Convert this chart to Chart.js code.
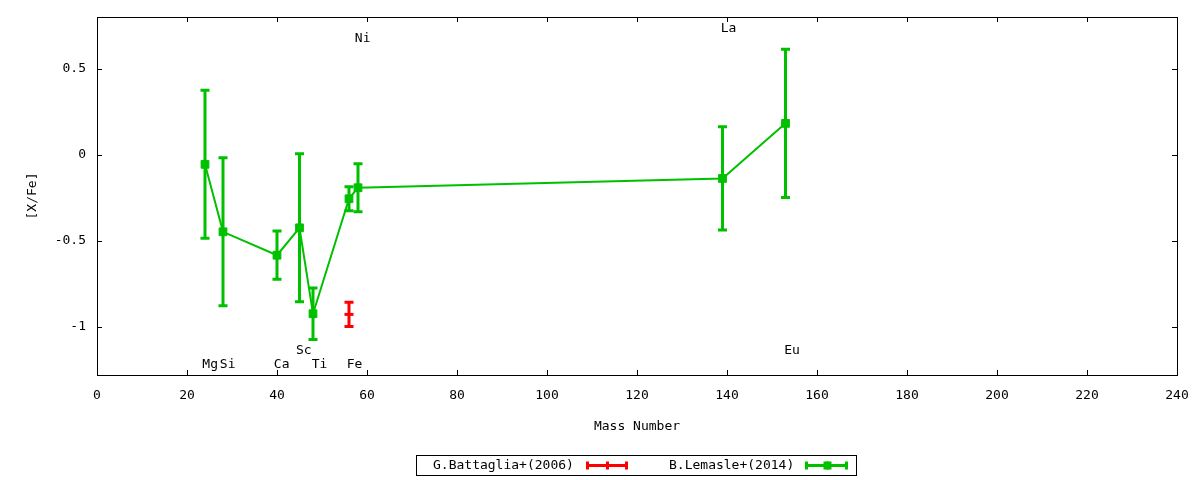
<!DOCTYPE html>
<html>
<head>
<meta charset="utf-8">
<script src="https://cdn.jsdelivr.net/npm/chart.js@4/dist/chart.umd.min.js"></script>
<style>
  html, body { margin: 0; padding: 0; background: #fff; }
  #wrap { width: 1200px; height: 480px; }
</style>
</head>
<body>
<div id="wrap"><canvas id="myChart" width="1200" height="480"></canvas></div>
<script>
// mass numbers, abundances and errors
let lemasleMass = [24, 28, 40, 45, 48, 56, 58, 139, 153]
let lemasleVal  = [-0.056, -0.448, -0.584, -0.425, -0.924, -0.256, -0.192, -0.138, 0.182]
let lemasleErr  = [0.43, 0.43, 0.14, 0.43, 0.15, 0.07, 0.14, 0.30, 0.43]

let battagliaMass = [56]
let battagliaVal  = [-0.928]
let battagliaErr  = [0.07]

// element labels: name, x (mass), y
let elemNames = ['Mg', 'Si', 'Ca', 'Sc', 'Ti', 'Fe', 'Ni', 'La', 'Eu']
let elemX     = [23.4, 27.3, 39.3, 44.2, 47.7, 55.5, 57.3, 138.6, 152.7]
let elemY     = [-1.22, -1.22, -1.22, -1.14, -1.22, -1.22, 0.675, 0.735, -1.14]

let xTicksMin = 0, xTicksMax = 240, xStep = 20
let yMin = -1.28, yMax = 0.8, yStep = 0.5

const FONT = "'DejaVu Sans Mono', monospace"
const FSIZE = 13
const GREEN = '#00c000'
const RED = '#ff0000'

function toPoints(xs, ys){
  let pts = []
  for(let i = 0; i < xs.length; i++){
    pts.push({x: xs[i], y: ys[i]})
  }
  return pts
}

// gnuplot-ish frame, inward ticks, error bars, labels and key
const gnuplotLook = {
  id: 'gnuplotLook',
  beforeDatasetsDraw(chart){
    const ctx = chart.ctx
    const xs = chart.scales.x, ys = chart.scales.y
    // error bars
    chart.data.datasets.forEach((ds) => {
      ctx.save()
      ctx.strokeStyle = ds.borderColor
      ctx.lineWidth = 3
      ds.data.forEach((p, i) => {
        const px = xs.getPixelForValue(p.x)
        const top = ys.getPixelForValue(p.y + ds.errors[i])
        const bot = ys.getPixelForValue(p.y - ds.errors[i])
        ctx.beginPath()
        ctx.moveTo(px, top); ctx.lineTo(px, bot)
        ctx.moveTo(px - 4.5, top); ctx.lineTo(px + 4.5, top)
        ctx.moveTo(px - 4.5, bot); ctx.lineTo(px + 4.5, bot)
        ctx.stroke()
      })
      ctx.restore()
    })
  },
  afterDatasetsDraw(chart){
    const ctx = chart.ctx
    const xs = chart.scales.x, ys = chart.scales.y
    const a = chart.chartArea

    // frame and ticks
    ctx.save()
    ctx.strokeStyle = '#000'
    ctx.lineWidth = 1
    ctx.strokeRect(Math.round(a.left) + 0.5, Math.round(a.top) + 0.5,
                   Math.round(a.right - a.left), Math.round(a.bottom - a.top))
    ctx.beginPath()
    xs.ticks.forEach((t) => {
      const px = Math.round(xs.getPixelForValue(t.value)) + 0.5
      ctx.moveTo(px, a.bottom); ctx.lineTo(px, a.bottom - 5)
      ctx.moveTo(px, a.top); ctx.lineTo(px, a.top + 5)
    })
    ys.ticks.forEach((t) => {
      const py = Math.round(ys.getPixelForValue(t.value)) + 0.5
      ctx.moveTo(a.left, py); ctx.lineTo(a.left + 5, py)
      ctx.moveTo(a.right, py); ctx.lineTo(a.right - 5, py)
    })
    ctx.stroke()

    // element labels
    ctx.fillStyle = '#000'
    ctx.font = FSIZE + 'px ' + FONT
    ctx.textAlign = 'left'
    ctx.textBaseline = 'middle'
    elemNames.forEach((n, i) => {
      ctx.fillText(n, xs.getPixelForValue(elemX[i]), ys.getPixelForValue(elemY[i]))
    })

    // key box
    ctx.strokeRect(416.5, 455.5, 440, 20)
    const keyText = [[433, 586, 628], [669, 805, 848]]
    chart.data.datasets.forEach((ds, k) => {
      const [tx, x0, x1] = keyText[k]
      const y = 465.5
      ctx.fillStyle = '#000'
      ctx.fillText(ds.label, tx, y)
      ctx.strokeStyle = ds.borderColor
      ctx.lineWidth = 3
      ctx.beginPath()
      ctx.moveTo(x0, y); ctx.lineTo(x1, y)
      ctx.moveTo(x0 + 1.5, y - 4); ctx.lineTo(x0 + 1.5, y + 4)
      ctx.moveTo(x1 - 1.5, y - 4); ctx.lineTo(x1 - 1.5, y + 4)
      const mid = Math.round((x0 + x1) / 2) + 0.5
      ctx.moveTo(mid, y - 4); ctx.lineTo(mid, y + 4)
      ctx.stroke()
      if (k === 1) {
        ctx.fillStyle = ds.borderColor
        ctx.fillRect(mid - 4, y - 4, 8, 8)
      }
    })
    ctx.restore()
  }
}

let cht = document.getElementById('myChart')
let chart = new Chart(cht, {
  type: 'scatter',
  data: {
    datasets: [{
      label: 'G.Battaglia+(2006)',
      data: toPoints(battagliaMass, battagliaVal),
      errors: battagliaErr,
      borderColor: RED,
      backgroundColor: RED,
      pointStyle: 'line',
      pointRadius: 4.5,
      pointBorderWidth: 3,
      borderWidth: 3,
      showLine: false
    }, {
      label: 'B.Lemasle+(2014)',
      data: toPoints(lemasleMass, lemasleVal),
      errors: lemasleErr,
      borderColor: GREEN,
      backgroundColor: GREEN,
      pointStyle: 'rect',
      pointRadius: 5.5,
      pointBorderWidth: 1,
      borderWidth: 2,
      showLine: true,
      tension: 0
    }]
  },
  options: {
    responsive: false,
    animation: false,
    layout: { padding: { left: 0, right: 23, top: 17, bottom: 0 } },
    plugins: { legend: { display: false }, tooltip: { enabled: false } },
    scales: {
      x: {
        type: 'linear',
        min: xTicksMin, max: xTicksMax,
        border: { display: false },
        grid: { display: false },
        ticks: {
          stepSize: xStep, color: '#000', padding: 5,
          maxRotation: 0, autoSkip: false,
          font: { family: FONT, size: FSIZE }
        },
        title: {
          display: true, text: 'Mass Number', color: '#000',
          font: { family: FONT, size: FSIZE }, padding: { top: 0, bottom: 46 }
        },
        afterFit(scale){ scale.height = 105 }
      },
      y: {
        min: yMin, max: yMax,
        border: { display: false },
        grid: { display: false },
        ticks: {
          stepSize: yStep, includeBounds: false, color: '#000', padding: 3,
          font: { family: FONT, size: FSIZE },
          callback: (v) => String(v)
        },
        title: {
          display: true, text: '[X/Fe]', color: '#000',
          font: { family: FONT, size: FSIZE }, padding: { top: 25, bottom: 0 }
        },
        afterFit(scale){ scale.width = 97 }
      }
    }
  },
  plugins: [gnuplotLook]
})
</script>
</body>
</html>
